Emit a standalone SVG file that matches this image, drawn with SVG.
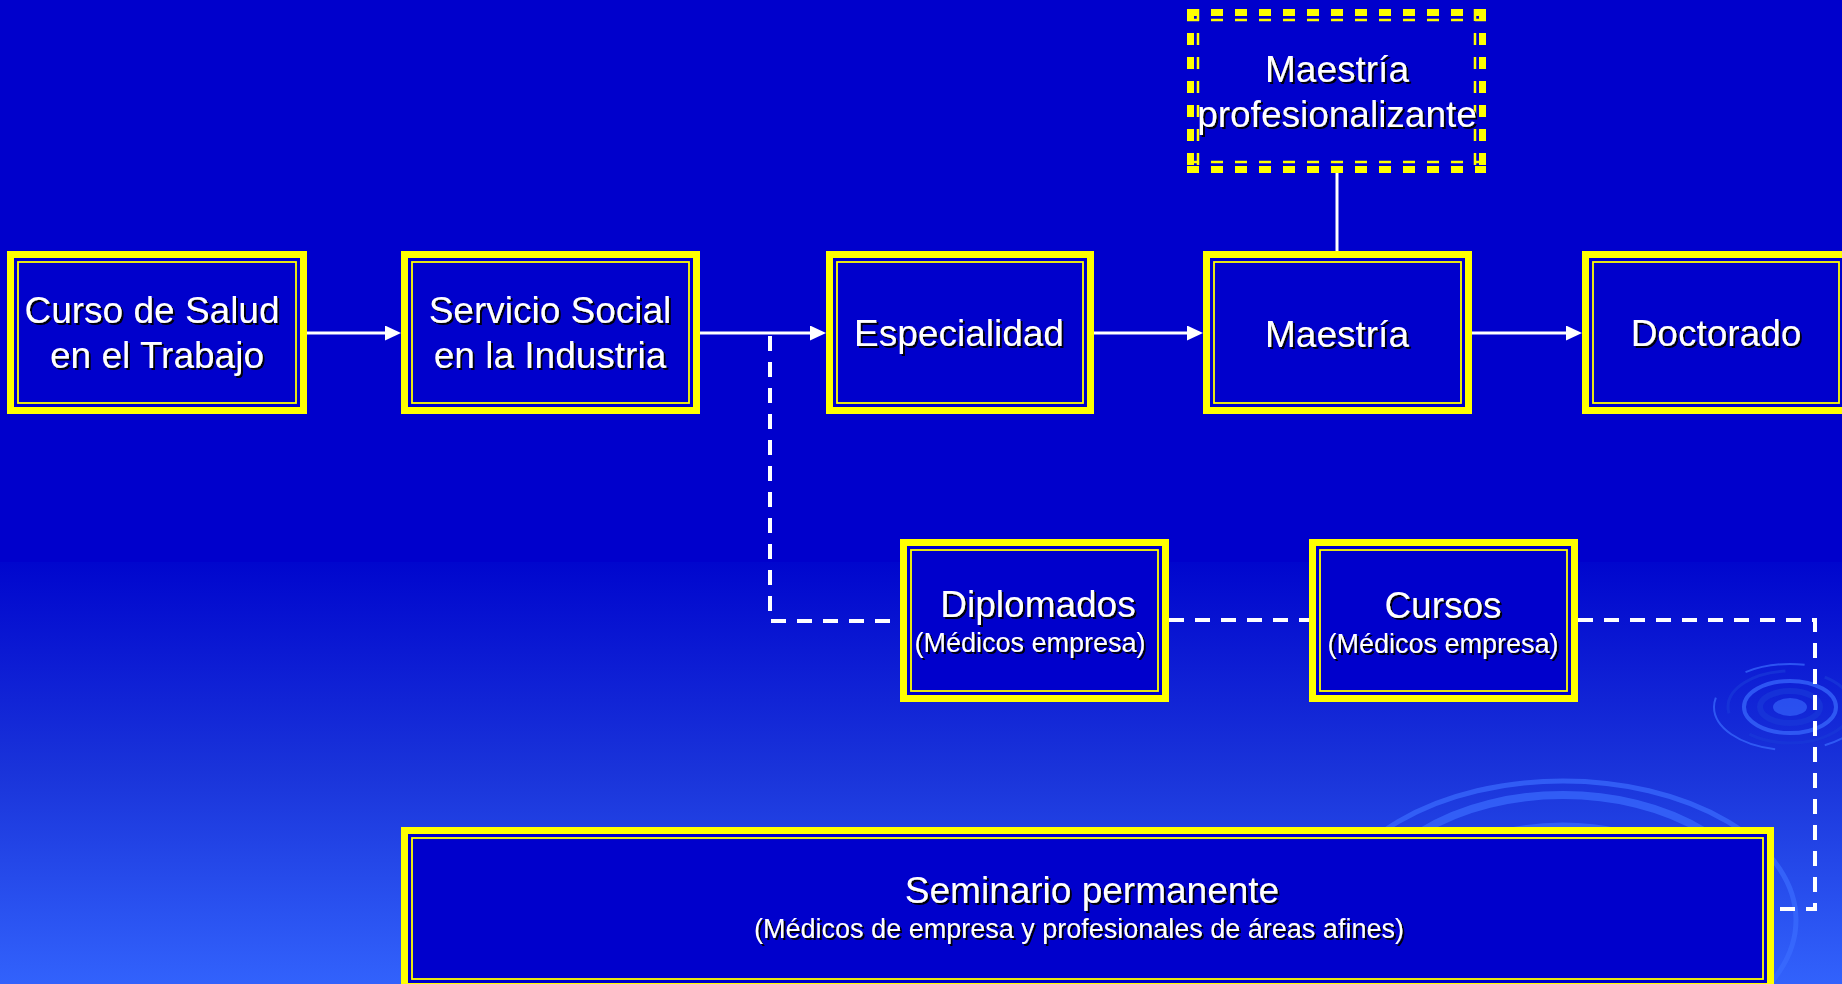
<svg xmlns="http://www.w3.org/2000/svg" width="1842" height="984" viewBox="0 0 1842 984">
<defs>
<linearGradient id="bg" x1="0" y1="0" x2="0" y2="1">
<stop offset="0" stop-color="#0006CE"/>
<stop offset="0.5" stop-color="#1A34DA"/>
<stop offset="1" stop-color="#3262FC"/>
</linearGradient>
<filter id="sh" x="-5%" y="-30%" width="110%" height="160%">
<feDropShadow dx="2" dy="2" stdDeviation="0" flood-color="#000010" flood-opacity="1"/>
</filter>
<marker id="arr" markerUnits="userSpaceOnUse" markerWidth="16" markerHeight="16" refX="6" refY="7.5" orient="auto">
<path d="M0,0 L16,7.5 L0,15 z" fill="#FFFFFF"/>
</marker>
<style>
.outer{fill:#0000CC;stroke:#FFFF00;stroke-width:7}
.inner{fill:none;stroke:#FFFF00;stroke-width:1.8}
.t{font-family:"Liberation Sans",Arial,sans-serif;fill:#FFFFFF;text-anchor:middle;filter:url(#sh)}
.big{font-size:37px}
.small{font-size:27px}
.solid{stroke:#FFFFFF;stroke-width:3;fill:none}
.dash{stroke:#FFFFFF;stroke-width:4;fill:none;stroke-dasharray:15 11}
.ydt{stroke:#FFFF00;stroke-width:7;stroke-dasharray:12 12;fill:none}
.ydn{stroke:#FFFF00;stroke-width:2.5;stroke-dasharray:12 12;fill:none}
.rip{fill:none;stroke:#3A6CFF;stroke-opacity:0.7}
.ripd{fill:none;stroke:#1838D8;stroke-opacity:0.7}
</style>
</defs>

<g id="background">
<rect x="0" y="0" width="1842" height="984" fill="#0000CC"/>
<rect x="0" y="562" width="1842" height="422" fill="url(#bg)"/>
<ellipse cx="1563" cy="920" rx="233" ry="139" class="rip" stroke-width="5" stroke-dasharray="380 40 900 60"/>
<ellipse cx="1563" cy="920" rx="200" ry="125" class="rip" stroke-width="8"/>
<ellipse cx="1563" cy="920" rx="160" ry="95" class="rip" stroke-width="5"/>
<ellipse cx="1790" cy="707" rx="17" ry="9" fill="#3A6CFF" fill-opacity="0.6"/>
<ellipse cx="1790" cy="707" rx="30" ry="16" class="ripd" stroke-width="6"/>
<ellipse cx="1790" cy="707" rx="46" ry="26" class="rip" stroke-width="4"/>
<ellipse cx="1790" cy="707" rx="62" ry="36" class="ripd" stroke-width="3" stroke-dasharray="120 30 80 40"/>
<ellipse cx="1790" cy="707" rx="76" ry="43" class="rip" stroke-width="2" stroke-dasharray="60 50 90 40" stroke-opacity="0.5"/>
</g>

<g id="connectors">
<line x1="307" y1="333" x2="391" y2="333" class="solid" marker-end="url(#arr)"/>
<line x1="700" y1="333" x2="816" y2="333" class="solid" marker-end="url(#arr)"/>
<line x1="1094" y1="333" x2="1193" y2="333" class="solid" marker-end="url(#arr)"/>
<line x1="1472" y1="333" x2="1572" y2="333" class="solid" marker-end="url(#arr)"/>
<line x1="1337" y1="173" x2="1337" y2="251" class="solid"/>
<path d="M770,336 V621 H900" class="dash"/>
<path d="M1169,620 H1309" class="dash"/>
<path d="M1578,620 H1815 V909 H1774" class="dash"/>
</g>

<g id="maestria-prof">
<line x1="1187" y1="12.5" x2="1486" y2="12.5" class="ydt"/>
<line x1="1187" y1="20" x2="1486" y2="20" class="ydn"/>
<line x1="1187" y1="169.5" x2="1486" y2="169.5" class="ydt"/>
<line x1="1187" y1="162" x2="1486" y2="162" class="ydn"/>
<line x1="1190.5" y1="9" x2="1190.5" y2="173" class="ydt"/>
<line x1="1198" y1="9" x2="1198" y2="173" class="ydn"/>
<line x1="1482.5" y1="9" x2="1482.5" y2="173" class="ydt"/>
<line x1="1475" y1="9" x2="1475" y2="173" class="ydn"/>
<text class="t big" x="1337" y="82">Maestría</text>
<text class="t big" x="1337" y="127">profesionalizante</text>
</g>

<g id="curso">
<rect class="outer" x="10.5" y="254.5" width="293" height="156"/>
<rect class="inner" x="18" y="262" width="278" height="141"/>
<text class="t big" x="152" y="323">Curso de Salud</text>
<text class="t big" x="157" y="368">en el Trabajo</text>
</g>

<g id="servicio">
<rect class="outer" x="404.5" y="254.5" width="292" height="156"/>
<rect class="inner" x="412" y="262" width="277" height="141"/>
<text class="t big" x="550" y="323">Servicio Social</text>
<text class="t big" x="550" y="368">en la Industria</text>
</g>

<g id="especialidad">
<rect class="outer" x="829.5" y="254.5" width="261" height="156"/>
<rect class="inner" x="837" y="262" width="246" height="141"/>
<text class="t big" x="959" y="346">Especialidad</text>
</g>

<g id="maestria">
<rect class="outer" x="1206.5" y="254.5" width="262" height="156"/>
<rect class="inner" x="1214" y="262" width="247" height="141"/>
<text class="t big" x="1337" y="347">Maestría</text>
</g>

<g id="doctorado">
<rect class="outer" x="1585.5" y="254.5" width="261" height="156"/>
<rect class="inner" x="1593" y="262" width="246" height="141"/>
<text class="t big" x="1716" y="346">Doctorado</text>
</g>

<g id="diplomados">
<rect class="outer" x="903.5" y="542.5" width="262" height="156"/>
<rect class="inner" x="911" y="550" width="247" height="141"/>
<text class="t big" x="1038" y="617">Diplomados</text>
<text class="t small" x="1030" y="652">(Médicos empresa)</text>
</g>

<g id="cursos">
<rect class="outer" x="1312.5" y="542.5" width="262" height="156"/>
<rect class="inner" x="1320" y="550" width="247" height="141"/>
<text class="t big" x="1443" y="618">Cursos</text>
<text class="t small" x="1443" y="653">(Médicos empresa)</text>
</g>

<g id="seminario">
<rect class="outer" x="404.5" y="830.5" width="1366" height="156"/>
<rect class="inner" x="412" y="838" width="1351" height="141"/>
<text class="t big" x="1092" y="903">Seminario permanente</text>
<text class="t small" x="1079" y="938">(Médicos de empresa y profesionales de áreas afines)</text>
</g>
</svg>
